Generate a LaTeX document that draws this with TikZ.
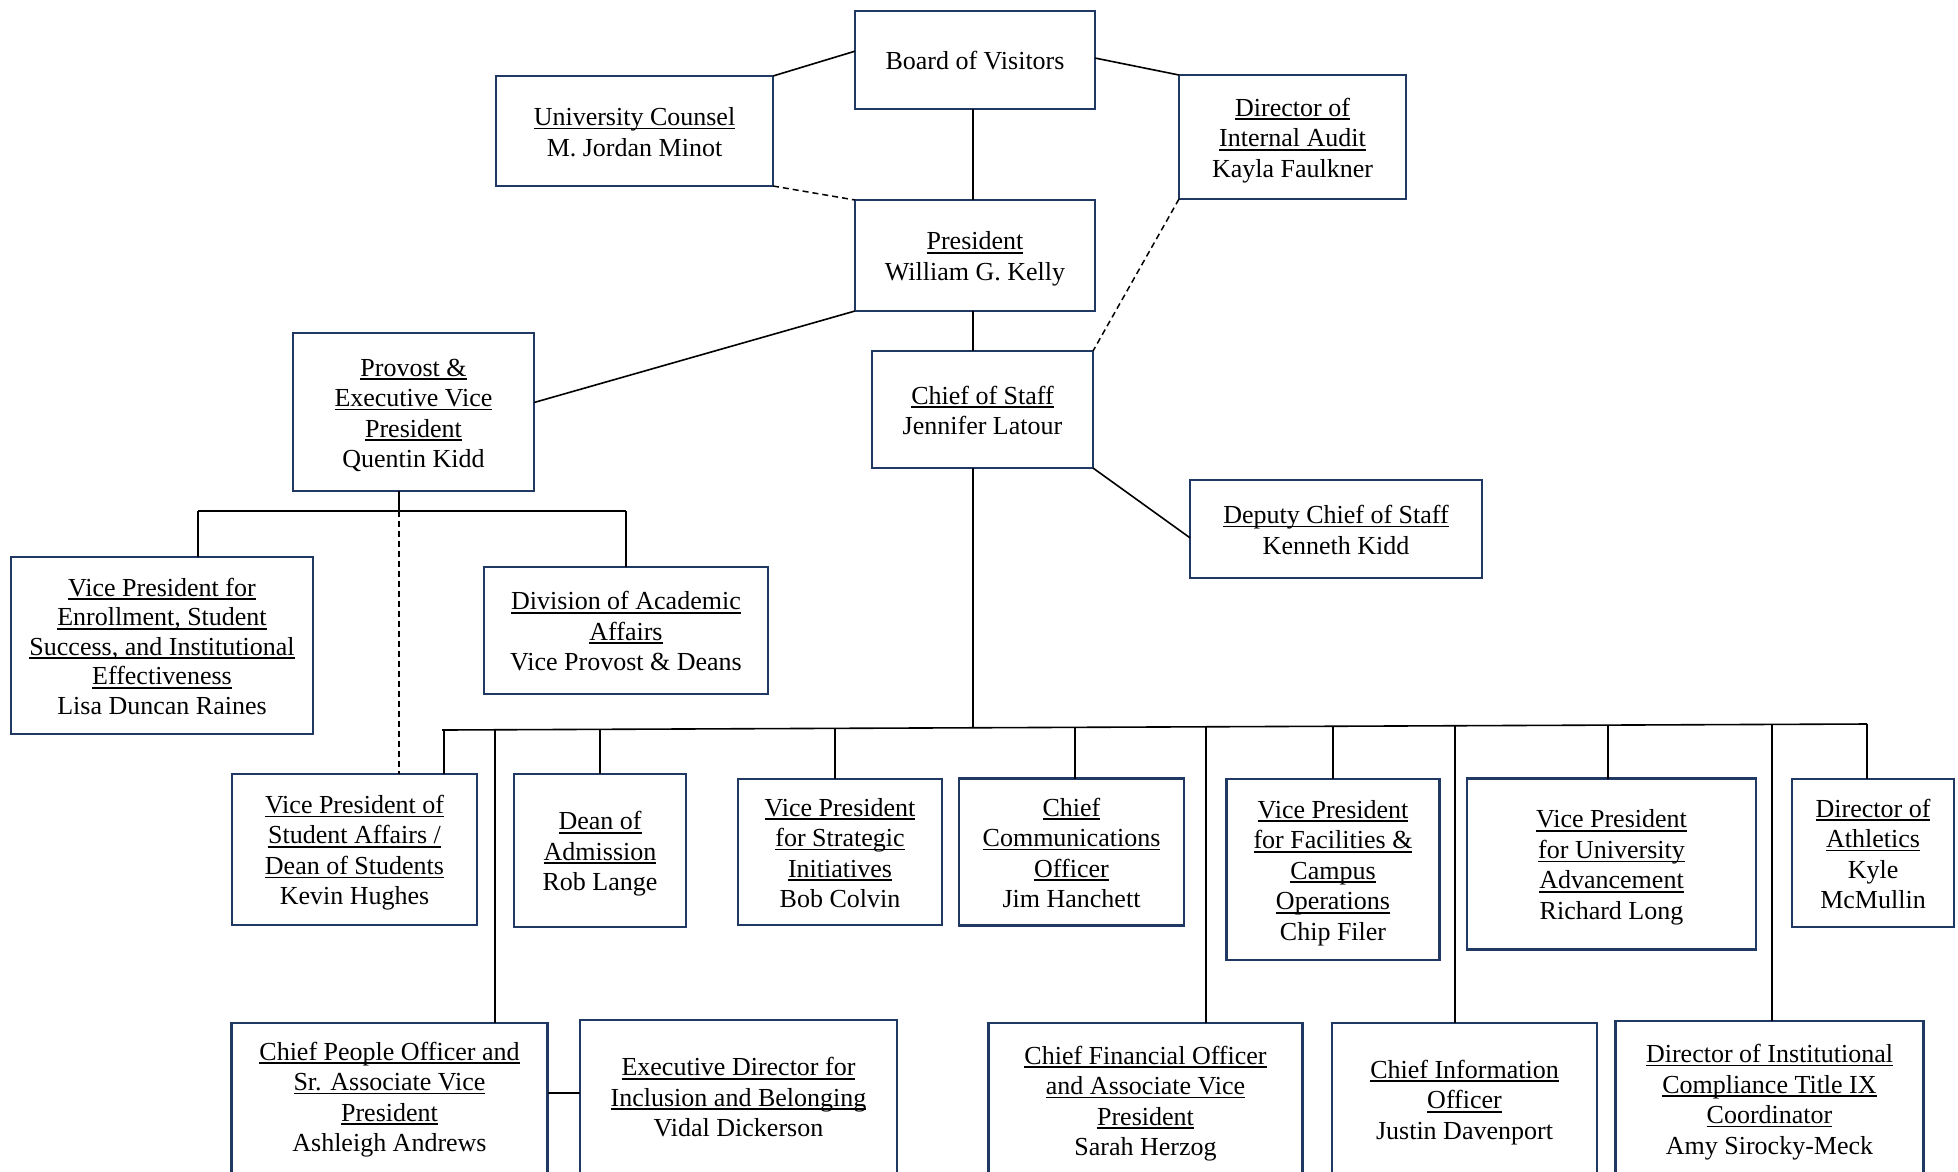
\documentclass[tikz,border=0pt]{standalone}
\usepackage{fontspec}
\setmainfont{Liberation Serif}
\usetikzlibrary{calc}
\definecolor{navy}{RGB}{31,56,100}
\newcommand\ulx[1]{\leavevmode\setbox0=\hbox{#1}\rlap{\rule[-3.8pt]{\wd0}{1.6pt}}\box0}
\newcommand\bx[2][0pt]{\rule{0pt}{25pt}#2\rule[\dimexpr-5.5pt-#1\relax]{0pt}{\dimexpr5.5pt+#1\relax}}
\tikzset{
  orgbox/.style={draw=navy, line width=2.8pt, fill=white, inner sep=0pt, outer sep=0pt,
    align=center, font=\fontsize{26}{30.5}\selectfont},
  link/.style={draw=black, line width=1.6pt},
  thinlink/.style={draw=black, line width=1.3pt},
  dashlink/.style={draw=black, line width=1.5pt, dash pattern=on 6pt off 4pt}
}
\begin{document}
\begin{tikzpicture}[x=1pt,y=-1pt]
\useasboundingbox (0,0) rectangle (1958,1171);
\clip (0,0) rectangle (1958,1171);
% top level
\node[orgbox, minimum width=240pt, minimum height=98pt] (bov) at (975,60) {\bx{Board of Visitors}};
\node[orgbox, minimum width=277pt, minimum height=110pt] (uc) at (634.5,131) {\bx{\ulx{University Counsel}\\M. Jordan Minot}};
\node[orgbox, minimum width=227pt, minimum height=124pt] (dia) at (1292.5,137) {\bx{\ulx{Director of}\\\ulx{Internal Audit}\\Kayla Faulkner}};
\node[orgbox, minimum width=240pt, minimum height=111pt] (pres) at (975,255.5) {\bx{\ulx{President}\\William G. Kelly}};
\node[orgbox, minimum width=221pt, minimum height=117pt] (cos) at (982.5,409.5) {\bx{\ulx{Chief of Staff}\\Jennifer Latour}};
\node[orgbox, minimum width=241pt, minimum height=158pt] (prov) at (413.5,412) {\bx{\ulx{Provost \&}\\\ulx{Executive Vice}\\\ulx{President}\\Quentin Kidd}};
\node[orgbox, minimum width=292pt, minimum height=98pt] (dcos) at (1336,529) {\bx{\ulx{Deputy Chief of Staff}\\Kenneth Kidd}};
% provost reports
\node[orgbox, minimum width=302pt, minimum height=177pt, font=\fontsize{26}{29.5}\selectfont] (vpe) at (162,645.5) {\bx{\ulx{Vice President for}\\\ulx{Enrollment, Student}\\\ulx{Success, and Institutional}\\\ulx{Effectiveness}\\Lisa Duncan Raines}};
\node[orgbox, minimum width=284pt, minimum height=127pt] (daa) at (626,630.5) {\bx{\ulx{Division of Academic}\\\ulx{Affairs}\\Vice Provost \& Deans}};
% middle row
\node[orgbox, minimum width=245pt, minimum height=151pt] (vpsa) at (354.5,849.5) {\bx{\ulx{Vice President of}\\\ulx{Student Affairs /}\\\ulx{Dean of Students}\\Kevin Hughes}};
\node[orgbox, minimum width=172pt, minimum height=153pt] (doa) at (600,850.5) {\bx{\ulx{Dean of}\\\ulx{Admission}\\Rob Lange}};
\node[orgbox, minimum width=204pt, minimum height=146pt] (vpsi) at (840,852) {\bx{\ulx{Vice President}\\\ulx{for Strategic}\\\ulx{Initiatives}\\Bob Colvin}};
\node[orgbox, minimum width=225pt, minimum height=147pt] (cco) at (1071.5,852) {\bx{\ulx{Chief}\\\ulx{Communications}\\\ulx{Officer}\\Jim Hanchett}};
\node[orgbox, minimum width=213pt, minimum height=181pt] (vpf) at (1333,869.5) {\bx{\ulx{Vice President}\\\ulx{for Facilities \&}\\\ulx{Campus}\\\ulx{Operations}\\Chip Filer}};
\node[orgbox, minimum width=289pt, minimum height=171pt] (vpua) at (1611.5,864) {\bx{\ulx{Vice President}\\\ulx{for University}\\\ulx{Advancement}\\Richard Long}};
\node[orgbox, minimum width=162pt, minimum height=148pt] (ath) at (1873,853) {\bx{\ulx{Director of}\\\ulx{Athletics}\\Kyle\\McMullin}};
% bottom row
\node[orgbox, minimum width=316pt, minimum height=157pt] (cpo) at (389.5,1101.5) {\bx[11pt]{\ulx{Chief People Officer and}\\\ulx{Sr. Associate Vice}\\\ulx{President}\\Ashleigh Andrews}};
\node[orgbox, minimum width=317pt, minimum height=160pt] (edib) at (738.5,1100) {\bx[7pt]{\ulx{Executive Director for}\\\ulx{Inclusion and Belonging}\\Vidal Dickerson}};
\node[orgbox, minimum width=314pt, minimum height=157pt] (cfo) at (1145.5,1101.5) {\bx[3pt]{\ulx{Chief Financial Officer}\\\ulx{and Associate Vice}\\\ulx{President}\\Sarah Herzog}};
\node[orgbox, minimum width=265pt, minimum height=157pt] (cio) at (1464.5,1101.5) {\bx[5pt]{\ulx{Chief Information}\\\ulx{Officer}\\Justin Davenport}};
\node[orgbox, minimum width=308pt, minimum height=159pt] (dic) at (1769.5,1100.5) {\bx[4pt]{\ulx{Director of Institutional}\\\ulx{Compliance Title IX}\\\ulx{Coordinator}\\Amy Sirocky-Meck}};
% top connectors
\draw[link] ($(bov.north west)!0.41!(bov.south west)$) -- (uc.north east);
\draw[link] ($(bov.north east)!0.48!(bov.south east)$) -- (dia.north west);
\coordinate (bj) at (973,109);
\draw[thinlink] (bov.south -| bj) -- (pres.north -| bj);
\draw[dashlink] (uc.south east) -- (pres.north west);
\draw[dashlink] (dia.south west) -- (cos.north east);
\draw[link] (pres.south -| bj) -- (cos.north -| bj);
\draw[link] (pres.south west) -- ($(prov.north east)!0.44!(prov.south east)$);
\draw[link] (cos.south east) -- ($(dcos.north west)!0.59!(dcos.south west)$);
% provost tree
\coordinate (pj) at (399,511);
\coordinate (pl) at (198,511);
\coordinate (pr) at (626,511);
\draw[link] (prov.south -| pj) -- (pj);
\draw[link] (pl) -- (pr);
\draw[link] (pl) -- (vpe.north -| pl);
\draw[link] (pr) -- (daa.north -| pr);
\draw[dashlink] (pj) -- (vpsa.north -| pj);
% chief of staff bus
\coordinate (cj) at (973,727.8);
\draw[thinlink] (cos.south -| cj) -- (cj);
\coordinate (bL) at (442,730);
\coordinate (b1) at (444,730);
\coordinate (b2) at (495,729.8);
\coordinate (b3) at (600,729.3);
\coordinate (b4) at (835,728.3);
\coordinate (b5) at (1075,727.3);
\coordinate (b6) at (1206,726.8);
\coordinate (b7) at (1333,726.2);
\coordinate (b8) at (1455,725.7);
\coordinate (b9) at (1608,725.1);
\coordinate (b10) at (1772,724.4);
\coordinate (bR) at (1867,724);
\draw[link] (bL) -- (bR);
\draw[link] (b1) -- (vpsa.north -| b1);
\draw[thinlink] (b2) -- (cpo.north -| b2);
\draw[link] (b3) -- (doa.north -| b3);
\draw[link] (b4) -- (vpsi.north -| b4);
\draw[link] (b5) -- (cco.north -| b5);
\draw[thinlink] (b6) -- (cfo.north -| b6);
\draw[link] (b7) -- (vpf.north -| b7);
\draw[thinlink] (b8) -- (cio.north -| b8);
\draw[link] (b9) -- (vpua.north -| b9);
\draw[thinlink] (b10) -- (dic.north -| b10);
\draw[link] (bR) -- (ath.north -| bR);
\coordinate (cpoR) at ($(cpo.north east)!0.446!(cpo.south east)$);
\draw[link] (cpoR) -- (cpoR -| edib.west);
\end{tikzpicture}
\end{document}
